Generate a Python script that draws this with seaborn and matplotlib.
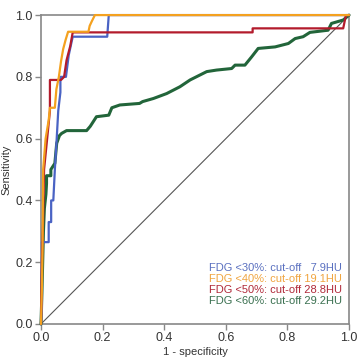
import numpy as np
import pandas as pd
import matplotlib
matplotlib.use('Agg')
import matplotlib.pyplot as plt
import seaborn as sns

# ROC curves (1 - specificity, sensitivity)
x30 = [0, 0.003, 0.003, 0.025, 0.025, 0.033, 0.033, 0.04, 0.045, 0.051, 0.056, 0.063, 0.063, 0.081, 0.09, 0.103, 0.215, 0.22, 1.0]
y30 = [0, 0.05, 0.265, 0.265, 0.33, 0.33, 0.40, 0.40, 0.50, 0.60, 0.69, 0.75, 0.80, 0.80, 0.87, 0.93, 0.93, 1.0, 1.0]

x40 = [0, 0.003, 0.005, 0.007, 0.015, 0.025, 0.029, 0.045, 0.05, 0.058, 0.065, 0.072, 0.08, 0.088, 0.154, 0.158, 0.165, 0.17, 0.175, 1.0]
y40 = [0, 0.12, 0.24, 0.50, 0.60, 0.66, 0.70, 0.70, 0.76, 0.80, 0.85, 0.89, 0.92, 0.946, 0.946, 0.965, 0.98, 0.99, 1.0, 1.0]

x50 = [0, 0.003, 0.007, 0.01, 0.02, 0.029, 0.029, 0.06, 0.065, 0.075, 0.083, 0.095, 0.103, 0.687, 0.687, 0.981, 0.99, 1.0]
y50 = [0, 0.2, 0.34, 0.50, 0.60, 0.69, 0.79, 0.79, 0.79, 0.80, 0.854, 0.90, 0.944, 0.944, 0.957, 0.957, 1.0, 1.0]

x60 = [0, 0.003, 0.008, 0.011, 0.016, 0.018, 0.018, 0.032, 0.032, 0.045, 0.051, 0.06, 0.067, 0.083, 0.148, 0.16, 0.18, 0.22, 0.23, 0.256,
       0.32, 0.33, 0.365, 0.408, 0.451, 0.484, 0.538, 0.57, 0.619, 0.63, 0.662, 0.684, 0.705, 0.76, 0.803, 0.825, 0.851, 0.873, 0.932, 0.943,
       0.981, 1.0]
y60 = [0, 0.1, 0.3, 0.374, 0.42, 0.455, 0.48, 0.48, 0.50, 0.52, 0.585, 0.61, 0.617, 0.626, 0.626, 0.64, 0.671, 0.676, 0.70, 0.709,
       0.714, 0.72, 0.730, 0.746, 0.768, 0.79, 0.817, 0.822, 0.827, 0.838, 0.838, 0.865, 0.892, 0.897, 0.908, 0.924, 0.93, 0.944, 0.951, 0.973,
       0.984, 1.0]

labels = ['FDG <30%: cut-off   7.9HU', 'FDG <40%: cut-off 19.1HU',
          'FDG <50%: cut-off 28.8HU', 'FDG <60%: cut-off 29.2HU']
colors = ['#4a63c4', '#f4a11f', '#b31b2c', '#22653a']
text_colors = ['#5a70c0', '#f0a540', '#b02a3a', '#3a7050']

ticks = [0.0, 0.2, 0.4, 0.6, 0.8, 1.0]

sns.set_style('white')
plt.rcParams['font.family'] = ['Liberation Sans', 'DejaVu Sans']

fig = plt.figure(figsize=(3.58, 3.59), dpi=100)
ax = fig.add_axes([0.1145, 0.0975, 0.8605, 0.8605])

# chance line
sns.lineplot(x=[0, 1], y=[0, 1], color='#555555', linewidth=0.8, ax=ax)

curves = [(x60, y60), (x30, y30), (x50, y50), (x40, y40)]
order = [3, 0, 2, 1]
for (xs, ys), i in zip(curves, order):
    df = pd.DataFrame({'fpr': xs, 'tpr': ys})
    sns.lineplot(data=df, x='fpr', y='tpr', sort=False, estimator=None,
                 color=colors[i], linewidth=2.2 if i == 3 else 1.6, ax=ax, clip_on=False, zorder=3)

ax.set_xlim(0, 1)
ax.set_ylim(0, 1)
ax.set_xticks(ticks)
ax.set_yticks(ticks)
ax.set_xticklabels([f'{t:.1f}' for t in ticks], fontsize=9, color='#333333')
ax.set_yticklabels([f'{t:.1f}' for t in ticks], fontsize=9, color='#333333')
ax.tick_params(direction='out', length=4, width=1, color='#888888', left=True, bottom=True, pad=2)
ax.set_xlabel('1 - specificity', fontsize=8, color='#333333', labelpad=2)
ax.set_ylabel('Sensitivity', fontsize=8, color='#333333', labelpad=3)
for s in ax.spines.values():
    s.set_color('#888888')
    s.set_linewidth(1.2)

ypos = [0.181, 0.146, 0.110, 0.074]
for lab, c, yy in zip(labels, text_colors, ypos):
    ax.text(0.977, yy, lab, color=c, fontsize=8, ha='right', va='center', transform=ax.transAxes)

fig.savefig('out.png', dpi=100)
